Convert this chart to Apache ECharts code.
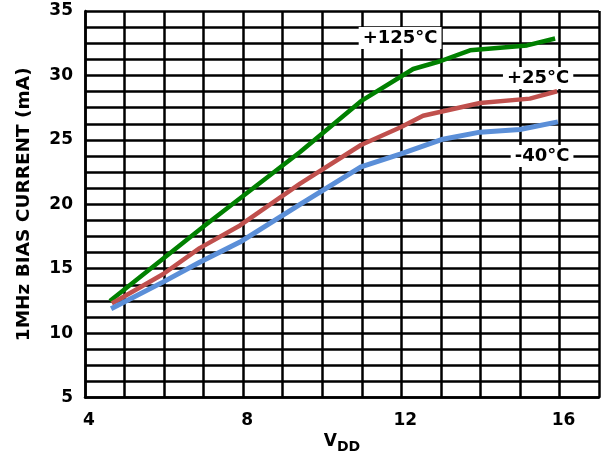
<!DOCTYPE html>
<html>
<head>
<meta charset="utf-8">
<script src="https://cdn.jsdelivr.net/npm/echarts@6/dist/echarts.min.js"></script>
<style>
  html, body { margin: 0; padding: 0; background: #fff; }
  #chart { width: 603px; height: 459px; }
</style>
</head>
<body>
<div id="chart"></div>
<script>
// VDD (V) and bias current (mA)
const vdd125 = [4.63, 7.03, 9.44, 10.98, 12.3, 12.98, 13.74, 15.18, 15.89]
const cur125 = [12.5, 18.36, 24.06, 28.0, 30.5, 31.1, 31.95, 32.33, 32.87]
const vdd25 = [4.68, 5.97, 6.9, 7.92, 9.44, 10.98, 11.97, 12.55, 13.99, 15.25, 15.94]
const cur25 = [12.3, 14.57, 16.6, 18.36, 21.6, 24.6, 25.96, 26.87, 27.86, 28.2, 28.77]
const vddM40 = [4.66, 5.97, 6.9, 7.92, 9.44, 10.98, 11.97, 13.05, 13.99, 15.0, 15.96]
const curM40 = [11.9, 13.96, 15.5, 17.07, 20.0, 22.9, 23.9, 25.05, 25.6, 25.8, 26.4]
const seriesNames = ['+125°C', '+25°C', '-40°C']
const labelCoords = [[11.97, 32.9], [15.46, 29.8], [15.56, 23.75]]
const xTickLabels = [4, 8, 12, 16]

const font = 'DejaVu Sans'
const zip = (xs, ys) => xs.map((x, i) => [x, ys[i]])

const chart = echarts.init(document.getElementById('chart'))

const makeSeries = (idx, color, xs, ys, width) => ({
  name: seriesNames[idx],
  type: 'line',
  data: zip(xs, ys),
  showSymbol: false,
  silent: true,
  lineStyle: { color, width },
  z: 3,
  markPoint: {
    symbol: 'rect',
    symbolSize: 0,
    silent: true,
    label: {
      show: true,
      position: 'inside',
      formatter: seriesNames[idx],
      color: '#000',
      fontFamily: font,
      fontWeight: 'bold',
      fontSize: 18,
      backgroundColor: '#fff',
      padding: [2, 4]
    },
    data: [{ coord: labelCoords[idx] }]
  }
})

chart.setOption({
  animation: false,
  grid: { left: 85, right: 4, top: 11, bottom: 53 },
  xAxis: {
    type: 'value',
    min: 4,
    max: 17,
    interval: 1,
    name: '{v|V}{s|DD}',
    nameLocation: 'middle',
    nameGap: 31,
    nameTextStyle: {
      rich: {
        v: { fontFamily: font, fontWeight: 'bold', fontSize: 17, color: '#000' },
        s: { fontFamily: font, fontWeight: 'bold', fontSize: 14, color: '#000', padding: [10, 0, 0, 0] }
      }
    },
    axisLine: { show: true, lineStyle: { color: '#000', width: 2.5 } },
    axisTick: { show: false },
    axisLabel: {
      color: '#000',
      fontFamily: font,
      fontWeight: 'bold',
      fontSize: 17,
      margin: 14,
      padding: [0, 0, 0, 8],
      formatter: v => (xTickLabels.includes(v) ? String(v) : '')
    },
    splitLine: { show: true, lineStyle: { color: '#000', width: 2.5 } }
  },
  yAxis: {
    type: 'value',
    min: 5,
    max: 35,
    interval: 5,
    name: '1MHz BIAS CURRENT (mA)',
    nameLocation: 'middle',
    nameGap: 51,
    nameTextStyle: { color: '#000', fontFamily: font, fontWeight: 'bold', fontSize: 18.5 },
    axisLine: { show: true, lineStyle: { color: '#000', width: 2.5 } },
    axisTick: { show: false },
    minorTick: { show: false, splitNumber: 4 },
    minorSplitLine: { show: true, lineStyle: { color: '#000', width: 2.5 } },
    axisLabel: {
      color: '#000',
      fontFamily: font,
      fontWeight: 'bold',
      fontSize: 17,
      margin: 12,
      padding: [0, 0, 6, 0]
    },
    splitLine: { show: true, lineStyle: { color: '#000', width: 2.5 } }
  },
  series: [
    makeSeries(0, '#008000', vdd125, cur125, 4.5),
    makeSeries(1, '#c0504d', vdd25, cur25, 4.5),
    makeSeries(2, '#5b8fd8', vddM40, curM40, 5)
  ]
})
</script>
</body>
</html>
